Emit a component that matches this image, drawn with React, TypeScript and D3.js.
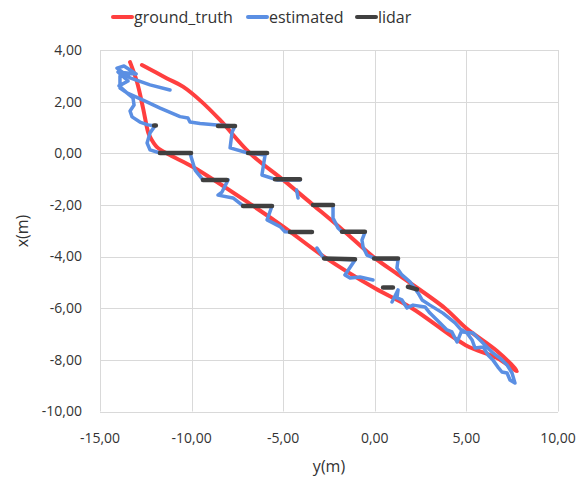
import * as d3 from "d3";
import React, { useEffect, useRef } from "react";

// points are [y(m), x(m)] : horizontal axis is y(m), vertical axis is x(m)
type Pt = [number, number];

const groundTruth: Pt[] = [
  [-12.71, 3.42], [-11.34, 2.9], [-10.47, 2.58], [-9.49, 2.02], [-8.45, 1.29], [-6.81, 0.0],
  [-5.0, -1.03], [-3.37, -2.0], [-1.75, -2.97], [-0.1, -4.0], [1.38, -4.75], [3.83, -6.0],
  [4.98, -6.77], [6.67, -7.66], [7.76, -8.43],
  [6.67, -7.93], [4.96, -7.43], [2.03, -6.0], [0.01, -5.23], [-2.78, -4.0], [-5.0, -2.84],
  [-6.72, -2.0], [-9.92, -0.53], [-11.18, -0.07], [-11.89, 0.24], [-12.27, 0.64], [-12.38, 0.83],
  [-12.65, 1.75], [-12.98, 2.76], [-13.36, 3.53],
];

// null = gap in the recorded series
const estimated: (Pt | null)[] = [
  [-11.18, 2.45], [-12.27, 2.65], [-13.36, 2.92], [-14.07, 3.3], [-13.69, 3.38], [-13.03, 3.07],
  [-14.02, 3.15], [-13.47, 2.8], [-13.96, 2.61], [-13.53, 2.34], [-12.65, 2.06], [-11.72, 1.75],
  [-10.63, 1.42], [-10.2, 1.37], [-10.09, 1.21], [-9.54, 1.15], [-8.61, 1.1], [-7.63, 1.06],
  [-7.79, 0.82], [-7.9, 0.21], [-6.92, 0.01], [-5.99, -0.07], [-6.16, -0.84], [-5.34, -1.03],
  [-4.08, -1.03],
  null,
  [-4.27, -1.42], [-4.19, -1.73],
  null,
  [-2.28, -2.04], [-2.28, -2.51], [-2.01, -2.89], [-1.79, -3.04], [-0.53, -3.04], [-0.7, -3.36],
  [-0.64, -3.63], [-0.43, -3.94], [0.01, -4.07], [1.27, -4.11], [1.21, -4.44], [1.48, -4.71],
  [1.92, -4.98], [2.36, -5.41], [2.58, -5.68], [3.01, -5.88], [3.72, -6.19], [4.38, -6.57],
  [4.81, -6.92], [5.36, -6.96], [5.74, -7.23], [6.12, -7.5], [6.45, -7.73], [6.83, -7.93],
  [7.22, -8.2], [7.49, -8.51], [7.65, -8.9],
  [7.38, -8.78], [7.22, -8.51], [6.94, -8.47], [6.72, -8.28], [6.45, -8.01], [6.18, -7.81],
  [5.91, -7.5], [5.47, -7.54], [5.31, -7.23], [5.03, -6.96], [4.76, -6.84], [4.49, -7.31],
  [4.21, -6.92], [3.94, -6.84], [3.56, -6.57], [3.01, -6.19], [2.74, -5.95], [2.09, -5.88],
  [1.76, -5.99], [1.48, -5.68], [1.21, -5.6], [1.27, -5.29], [0.94, -5.76],
  null,
  [-0.1, -4.91], [-0.81, -4.79], [-1.35, -4.83], [-1.63, -4.71], [-1.08, -4.13], [-2.72, -4.07],
  [-2.83, -4.02], [-3.16, -3.67],
  null,
  [-4.63, -3.05], [-4.9, -3.04], [-5.17, -2.84], [-5.88, -2.58], [-5.61, -2.04], [-7.19, -2.04],
  [-7.74, -1.73], [-8.56, -1.62], [-8.34, -1.5], [-8.01, -1.03], [-9.38, -1.03], [-9.81, -0.65],
  [-10.09, 0.01], [-11.72, 0.01], [-12.27, 0.13], [-12.43, 0.4], [-12.27, 0.79], [-12.0, 1.06],
  [-12.38, 1.1], [-12.82, 1.21], [-13.25, 1.41], [-13.36, 1.64], [-13.14, 1.87], [-13.2, 2.14],
  [-13.53, 2.34], [-13.91, 2.53], [-13.91, 2.99],
];

const lidar: (Pt | null)[] = [
  [-8.56, 1.06], [-7.63, 1.06], null,
  [-6.92, 0.01], [-5.88, 0.01], null,
  [-5.45, -1.01], [-4.08, -1.01], null,
  [-3.37, -2.0], [-2.28, -2.0], null,
  [-1.79, -3.04], [-0.54, -3.04], null,
  [-0.04, -4.07], [1.27, -4.07], null,
  [1.81, -5.17], [2.3, -5.27], null,
  [-12.05, 1.08], [-11.95, 1.08], null,
  [-11.73, 0.01], [-10.03, 0.01], null,
  [-9.38, -1.03], [-8.07, -1.03], null,
  [-7.19, -2.04], [-5.61, -2.04], null,
  [-4.63, -3.05], [-3.43, -3.05], null,
  [-2.77, -4.07], [-1.08, -4.1], null,
  [0.45, -5.2], [0.99, -5.2],
];

const xTicks = [-15, -10, -5, 0, 5, 10];
const yTicks = [4, 2, 0, -2, -4, -6, -8, -10];

const seriesNames = ["ground_truth", "estimated", "lidar"];
const seriesColors = ["#ff3f3f", "#5b8fe3", "#404040"];

const W = 587;
const H = 478;
const plot = { left: 100, right: 558, top: 50, bottom: 411.5 };
const fontFamily = "'Open Sans', sans-serif";
const textColor = "#333333";

const fmt = (n: number) => n.toFixed(2).replace(".", ",");

export default function App() {
  const ref = useRef<SVGSVGElement>(null);

  useEffect(() => {
    const svg = d3.select(ref.current);
    svg.selectAll("*").remove();

    const x = d3.scaleLinear().domain([-15, 10]).range([plot.left, plot.right]);
    const y = d3.scaleLinear().domain([-10, 4]).range([plot.bottom, plot.top]);

    svg.append("rect").attr("width", W).attr("height", H).attr("fill", "#fff");

    // grid
    const grid = svg.append("g").attr("stroke", "#d9d9d9").attr("stroke-width", 1);
    grid.selectAll(".gx").data(xTicks).enter().append("line")
      .attr("x1", d => Math.round(x(d)) + 0.5).attr("x2", d => Math.round(x(d)) + 0.5)
      .attr("y1", plot.top).attr("y2", plot.bottom);
    grid.selectAll(".gy").data(yTicks).enter().append("line")
      .attr("x1", plot.left).attr("x2", plot.right)
      .attr("y1", d => Math.round(y(d)) + 0.5).attr("y2", d => Math.round(y(d)) + 0.5);

    // tick labels
    svg.append("g").selectAll("text").data(yTicks).enter().append("text")
      .attr("x", 82).attr("y", d => y(d)).attr("dy", "0.35em")
      .attr("text-anchor", "end").attr("font-size", 14).attr("font-family", fontFamily)
      .attr("fill", textColor).text(d => fmt(d));
    svg.append("g").selectAll("text").data(xTicks).enter().append("text")
      .attr("x", d => x(d)).attr("y", 443)
      .attr("text-anchor", "middle").attr("font-size", 14).attr("font-family", fontFamily)
      .attr("fill", textColor).text(d => fmt(d));

    // axis titles
    svg.append("text").attr("x", (plot.left + plot.right) / 2).attr("y", 472)
      .attr("text-anchor", "middle").attr("font-size", 16).attr("font-family", fontFamily)
      .attr("fill", textColor).text("y(m)");
    svg.append("text").attr("transform", "translate(28,231) rotate(-90)")
      .attr("text-anchor", "middle").attr("font-size", 16).attr("font-family", fontFamily)
      .attr("fill", textColor).text("x(m)");

    const line = d3.line<Pt | null>()
      .defined(d => d !== null)
      .x(d => x((d as Pt)[0]))
      .y(d => y((d as Pt)[1]));

    const smoothLine = d3.line<Pt>()
      .x(d => x(d[0]))
      .y(d => y(d[1]))
      .curve(d3.curveCatmullRom.alpha(0.5));

    // ground truth drawn first, then estimated, lidar on top
    svg.append("path")
      .attr("d", smoothLine(groundTruth) || "")
      .attr("fill", "none")
      .attr("stroke", seriesColors[0])
      .attr("stroke-width", 4)
      .attr("stroke-linecap", "round")
      .attr("stroke-linejoin", "round");

    const paths: { data: (Pt | null)[]; width: number; color: string }[] = [
      { data: estimated, width: 3.5, color: seriesColors[1] },
      { data: lidar, width: 4.5, color: seriesColors[2] },
    ];
    paths.forEach(p => {
      svg.append("path")
        .attr("d", line(p.data) || "")
        .attr("fill", "none")
        .attr("stroke", p.color)
        .attr("stroke-width", p.width)
        .attr("stroke-linecap", "round")
        .attr("stroke-linejoin", "round");
    });

    // legend
    const legendX = [113, 248, 357];
    const legend = svg.append("g");
    seriesNames.forEach((name, i) => {
      legend.append("line")
        .attr("x1", legendX[i]).attr("x2", legendX[i] + 19)
        .attr("y1", 17).attr("y2", 17)
        .attr("stroke", seriesColors[i]).attr("stroke-width", 4).attr("stroke-linecap", "round");
      legend.append("text")
        .attr("x", legendX[i] + 21).attr("y", 17).attr("dy", "0.35em")
        .attr("font-size", 16).attr("font-family", fontFamily)
        .attr("fill", textColor).text(name);
    });
  }, []);

  return (
    <div style={{ position: "absolute", left: 0, top: 0 }}>
      <svg ref={ref} width={W} height={H} />
    </div>
  );
}
